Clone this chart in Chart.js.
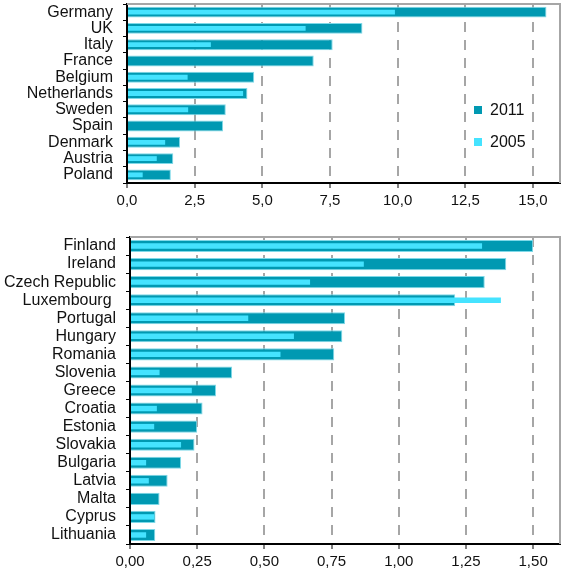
<!DOCTYPE html>
<html>
<head>
  <meta charset="UTF-8">
  <title>2011 vs 2005</title>
  <style>
    body { margin: 0; background: #fff; font-family: "Liberation Sans", Arial, sans-serif; }
    .wrap { position: absolute; left: 0; width: 561px; }
    .legend { position: absolute; font-size: 16px; color: #111; line-height: 18px; }
    .legend i { display: inline-block; width: 8px; height: 8px; margin-right: 8px; vertical-align: 1px; }
  </style>
  <script src="https://cdn.jsdelivr.net/npm/chart.js"></script>
</head>
<body>
  <div class="wrap" style="top: 0; height: 215px;">
    <canvas id="topChart" width="561" height="215"></canvas>
    <div class="legend" style="left: 474px; top: 101px;"><i style="background:#0099b2"></i>2011</div>
    <div class="legend" style="left: 474px; top: 133px;"><i style="background:#45e3ff"></i>2005</div>
  </div>
  <div class="wrap" style="top: 215px; height: 358px;">
    <canvas id="bottomChart" width="561" height="358"></canvas>
  </div>

  <script>
  // larger countries
  const topCountries = ["Germany", "UK", "Italy", "France", "Belgium", "Netherlands", "Sweden", "Spain", "Denmark", "Austria", "Poland"];
  const top2011 = [15.5, 8.7, 7.6, 6.9, 4.7, 4.45, 3.65, 3.55, 1.96, 1.71, 1.62];
  const top2005 = [9.9, 6.6, 3.1, null, 2.24, 4.29, 2.26, null, 1.41, 1.1, 0.58];

  // smaller countries
  const bottomCountries = ["Finland", "Ireland", "Czech Republic", "Luxembourg ", "Portugal", "Hungary", "Romania", "Slovenia", "Greece", "Croatia", "Estonia", "Slovakia", "Bulgaria", "Latvia", "Malta", "Cyprus", "Lithuania"];
  const bottom2011 = [1.50, 1.40, 1.32, 1.21, 0.80, 0.79, 0.76, 0.38, 0.32, 0.27, 0.25, 0.24, 0.19, 0.14, 0.11, 0.095, 0.094];
  const bottom2005 = [1.31, 0.87, 0.67, 1.38, 0.44, 0.61, 0.56, 0.11, 0.23, 0.10, 0.09, 0.19, 0.06, 0.07, null, 0.09, 0.06];

  const DARK = "#0099b2";
  const LIGHT = "#45e3ff";
  const GRID = "#a6a6a6";

  // gray frame on top and right of the plot
  const framePlugin = {
    id: "frame",
    beforeDatasetsDraw(chart) {
      const a = chart.chartArea;
      const ctx = chart.ctx;
      ctx.save();
      ctx.strokeStyle = GRID;
      ctx.lineWidth = 2;
      ctx.beginPath();
      ctx.moveTo(a.left, a.top);
      ctx.lineTo(a.right, a.top);
      ctx.lineTo(a.right, a.bottom);
      ctx.stroke();
      ctx.restore();
    }
  };

  function makeChart(id, labels, d2011, d2005, max, step, decimals, yWidth, xHeight, padTop) {
    return new Chart(document.getElementById(id), {
      type: "bar",
      data: {
        labels: labels,
        datasets: [
          { label: "2011", data: d2011, backgroundColor: DARK, borderColor: "#7fd9e8", borderWidth: 1, barPercentage: 0.67, categoryPercentage: 1, grouped: false, order: 2 },
          { label: "2005", data: d2005, backgroundColor: LIGHT, barPercentage: 0.3, categoryPercentage: 1, grouped: false, order: 1 }
        ]
      },
      options: {
        indexAxis: "y",
        responsive: false,
        animation: false,
        layout: { padding: { top: padTop, right: 1, left: 0, bottom: 0 } },
        plugins: { legend: { display: false }, tooltip: { enabled: false } },
        scales: {
          x: {
            min: 0,
            max: max,
            ticks: {
              stepSize: step,
              includeBounds: false,
              maxRotation: 0,
              color: "#111",
              font: { family: "Liberation Sans", size: 15 },
              padding: 4,
              callback: v => v.toFixed(decimals).replace(".", ",")
            },
            grid: {
              color: c => (c.tick && c.tick.value === 0) ? "rgba(0,0,0,0)" : GRID,
              lineWidth: 2,
              tickColor: "#000",
              tickLength: 5,
              tickWidth: 1,
              tickBorderDash: []
            },
            border: { display: true, color: "#000", width: 2, dash: [10, 8] },
            afterFit: s => { s.height = xHeight; }
          },
          y: {
            ticks: {
              color: "#111",
              font: { family: "Liberation Sans", size: 16 },
              padding: 10,
              autoSkip: false
            },
            grid: {
              drawOnChartArea: false,
              tickColor: "#000",
              tickLength: 4,
              tickWidth: 1
            },
            border: { display: true, color: "#000", width: 2 },
            afterFit: s => { s.width = yWidth; s.paddingTop = 0; s.paddingBottom = 0; }
          }
        }
      },
      plugins: [framePlugin]
    });
  }

  makeChart("topChart", topCountries, top2011, top2005, 16, 2.5, 1, 127, 32, 4);
  makeChart("bottomChart", bottomCountries, bottom2011, bottom2005, 1.6, 0.25, 2, 130, 29, 22);
  </script>
</body>
</html>
